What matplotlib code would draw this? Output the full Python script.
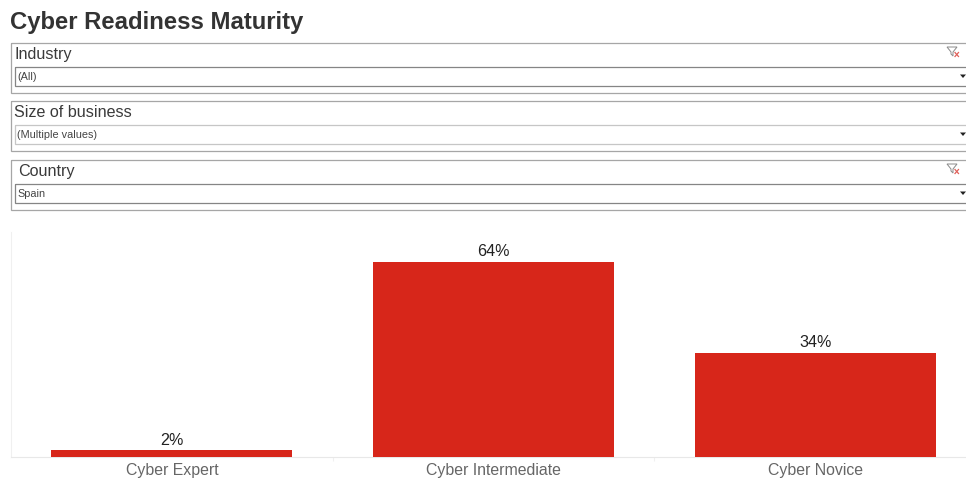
import matplotlib
matplotlib.use("Agg")
import matplotlib.pyplot as plt
from matplotlib.patches import Rectangle, Polygon

categories = ["Cyber Expert", "Cyber Intermediate", "Cyber Novice"]
values = [2, 64, 34]
filter_titles = ["Industry", "Size of business", "Country"]
filter_values = ["(All)", "(Multiple values)", "Spain"]
filter_cleared = [True, False, True]

W, H = 966, 479
RED = "#d7261a"

plt.rcParams["font.family"] = ["Liberation Sans", "DejaVu Sans"]

fig = plt.figure(figsize=(W / 100, H / 100), dpi=100, facecolor="white")

# pixel overlay for the title and the filter boxes
bg = fig.add_axes([0, 0, 1, 1])
bg.set_xlim(0, W)
bg.set_ylim(H, 0)
bg.axis("off")

bg.text(10, 22, "Cyber Readiness Maturity", fontsize=17.2, fontweight="bold",
        color="#333333", va="center", ha="left")

box_tops = [43, 101, 160]
title_x = [14, 14, 18]
for top, name, val, tx, cleared in zip(box_tops, filter_titles, filter_values, title_x, filter_cleared):
    bg.add_patch(Rectangle((10.5, top), 970, 49.5, fill=False, ec="#a6a6a6", lw=0.9))
    bg.add_patch(Rectangle((14.5, top + 24), 970, 18.5, fill=False,
                           ec="#858585" if cleared else "#c6c6c6", lw=0.9))
    bg.text(tx, top + 11.5, name, fontsize=11.6, color="#3a3a3a", va="center", ha="left")
    bg.text(17, top + 33.8, val, fontsize=7.8, color="#444444", va="center", ha="left")
    bg.add_patch(Polygon([[960, top + 31.5], [966, top + 31.5], [963, top + 35]],
                         fc="#222222", ec="none"))
    if cleared:
        # funnel with a small red x
        bg.add_patch(Polygon([[947, top + 4], [957, top + 4], [953, top + 9], [953, top + 13], [951, top + 11], [951, top + 9]],
                             fill=False, ec="#8a8a8a", lw=0.7))
        bg.plot([955, 958.5], [top + 9.5, top + 13.5], color="#e0605a", lw=0.9)
        bg.plot([955, 958.5], [top + 13.5, top + 9.5], color="#e0605a", lw=0.9)

# bar chart, bands 322 px wide, runs off the right edge
ax_left, ax_right, ax_top, ax_bottom = 11, 976, 232, 456.5
ax = fig.add_axes([ax_left / W, 1 - ax_bottom / H, (ax_right - ax_left) / W, (ax_bottom - ax_top) / H])
ax.patch.set_alpha(0)
ax.bar(range(3), values, width=0.75, color=RED, zorder=3)
ax.set_xlim(-0.5, 2.5)
ax.set_ylim(0, (ax_bottom - ax_top) / 3.04)
ax.set_yticks([])
ax.set_xticks([0.5, 1.5], labels=[])
ax.tick_params(axis="x", length=3, color="#f0f0f0", width=0.8)
for s in ["top", "right"]:
    ax.spines[s].set_visible(False)
ax.spines["left"].set_color("#f0f0f0")
ax.spines["bottom"].set_color("#e8e8e8")
ax.spines["left"].set_linewidth(0.8)
ax.spines["bottom"].set_linewidth(0.8)

for i, v in enumerate(values):
    ax.annotate(f"{v}%", (i, v), xytext=(0, 2), textcoords="offset points",
                ha="center", va="bottom", fontsize=11.6, color="#222222")
    ax.annotate(categories[i], (i, 0), xytext=(0, -4.5), textcoords="offset points",
                ha="center", va="top", fontsize=11.4, color="#666666")

plt.savefig("out.png", dpi=100)
plt.close()
